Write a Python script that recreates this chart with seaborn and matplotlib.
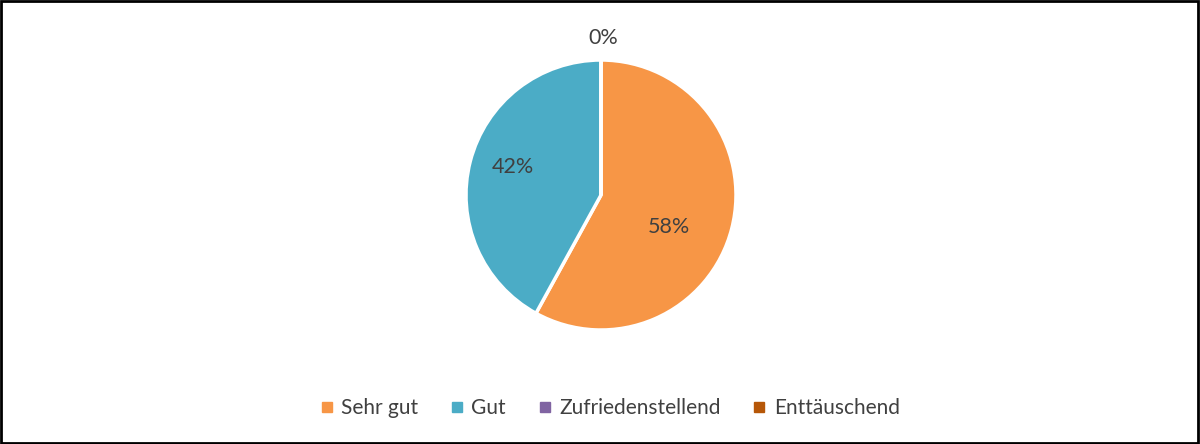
import matplotlib
matplotlib.use("Agg")
import matplotlib.pyplot as plt
import seaborn as sns
from matplotlib.lines import Line2D
from matplotlib.patches import Rectangle

categories = ["Sehr gut", "Gut", "Zufriedenstellend", "Enttäuschend"]
values = [58, 42, 0, 0]
pct_labels = ["58%", "42%", "0%", "0%"]
colors = ["#F79646", "#4BACC6", "#8064A2", "#B65708"]

sns.set_theme(style="white")
plt.rcParams['font.family'] = ['Lato', 'DejaVu Sans']

fig = plt.figure(figsize=(12, 4.44), dpi=100)
W, H = 1200, 444
cx, cy, r = 601, 195, 135
ax = fig.add_axes([(cx - r) / W, (H - cy - r) / H, 2 * r / W, 2 * r / H])
wedges, _ = ax.pie(values, colors=colors, startangle=90, counterclock=False,
                   wedgeprops=dict(edgecolor="white", linewidth=2.5), radius=1)
ax.set_xlim(-1, 1)
ax.set_ylim(-1, 1)
ax.set_aspect("equal")
ax.axis("off")

label_pos = [(0.50, -0.24), (-0.65, 0.21), (0.02, 1.16)]
for txt, (x, y) in zip(pct_labels[:3], label_pos):
    ax.text(x, y, txt, ha="center", va="center", fontsize=15.5, color="#404040", clip_on=False)

handles = [Line2D([0], [0], marker="s", linestyle="", markersize=7,
                  markerfacecolor=c, markeredgecolor=c) for c in colors]
fig.legend(handles, categories, loc="center", bbox_to_anchor=(608 / W, 1 - 408 / H),
           ncol=4, frameon=False, fontsize=15, handletextpad=0.2, columnspacing=1.35,
           labelcolor="#404040", handlelength=1.0)

fig.patches.append(Rectangle((0.001, 0.002), 0.997, 0.995, transform=fig.transFigure,
                             fill=False, edgecolor="black", linewidth=2))
fig.savefig("out.png", dpi=100)
